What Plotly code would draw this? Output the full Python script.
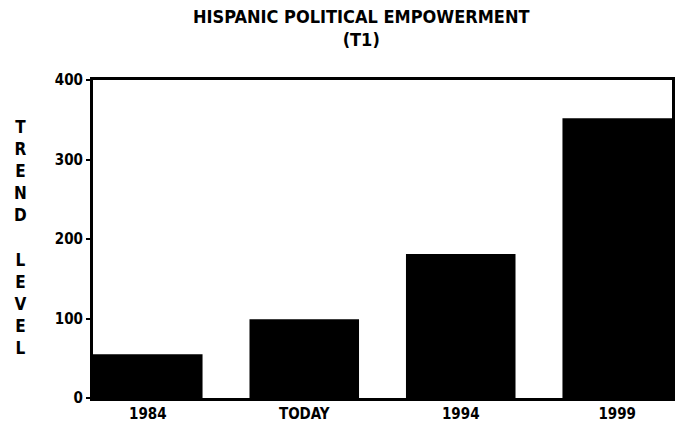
import plotly.graph_objects as go

categories = ["1984", "TODAY", "1994", "1999"]
values = [55, 99, 181, 352]
y_ticks = [0, 100, 200, 300, 400]
y_tick_labels = ["0", "100", "200", "300", "400"]

FONT = "DejaVu Sans Condensed, DejaVu Sans, sans-serif"

fig = go.Figure()
fig.add_trace(go.Bar(
    x=list(range(len(categories))), y=values,
    width=0.70,
    marker=dict(color="black", line=dict(width=0)),
    hoverinfo="skip",
))

fig.update_layout(
    width=683, height=435,
    margin=dict(l=93, r=8, t=80, b=37),
    paper_bgcolor="white", plot_bgcolor="white",
    showlegend=False,
    font=dict(family=FONT, color="black"),
    xaxis=dict(
        range=[-0.35, 3.35],
        tickmode="array", tickvals=list(range(len(categories))), ticktext=categories,
        showgrid=False, zeroline=False,
        showline=True, linecolor="black", linewidth=3, mirror=True,
        ticks="", tickfont=dict(size=15, family=FONT, weight="bold"),
    ),
    yaxis=dict(
        range=[0, 400],
        tickmode="array", tickvals=y_ticks, ticktext=y_tick_labels,
        showgrid=False, zeroline=False,
        showline=True, linecolor="black", linewidth=3, mirror=True,
        ticks="outside", ticklen=4, tickwidth=2, tickcolor="black",
        tickfont=dict(size=15, family=FONT, weight="bold"),
    ),
    annotations=[
        dict(text="<b>HISPANIC POLITICAL EMPOWERMENT</b><br><b>(T1)</b>",
             xref="paper", yref="paper", x=(362 - 93) / (683 - 93 - 8), y=1,
             yshift=28, xanchor="center", yanchor="bottom", showarrow=False,
             font=dict(size=18, family=FONT), align="center"),
        dict(text="<b>" + "<br>".join("TREND") + "<br><br>" + "<br>".join("LEVEL") + "</b>",
             xref="paper", yref="paper", x=0, xshift=-73, y=0.5, yshift=2,
             xanchor="center", yanchor="middle", showarrow=False,
             font=dict(size=17, family=FONT), align="center"),
    ],
)

fig.write_html("out.html", config={"displayModeBar": False})
with open("out.html", encoding="utf-8") as f:
    html = f.read()
html = html.replace("<head>", "<head><style>html,body{margin:0;padding:0;}</style>", 1)
with open("out.html", "w", encoding="utf-8") as f:
    f.write(html)
